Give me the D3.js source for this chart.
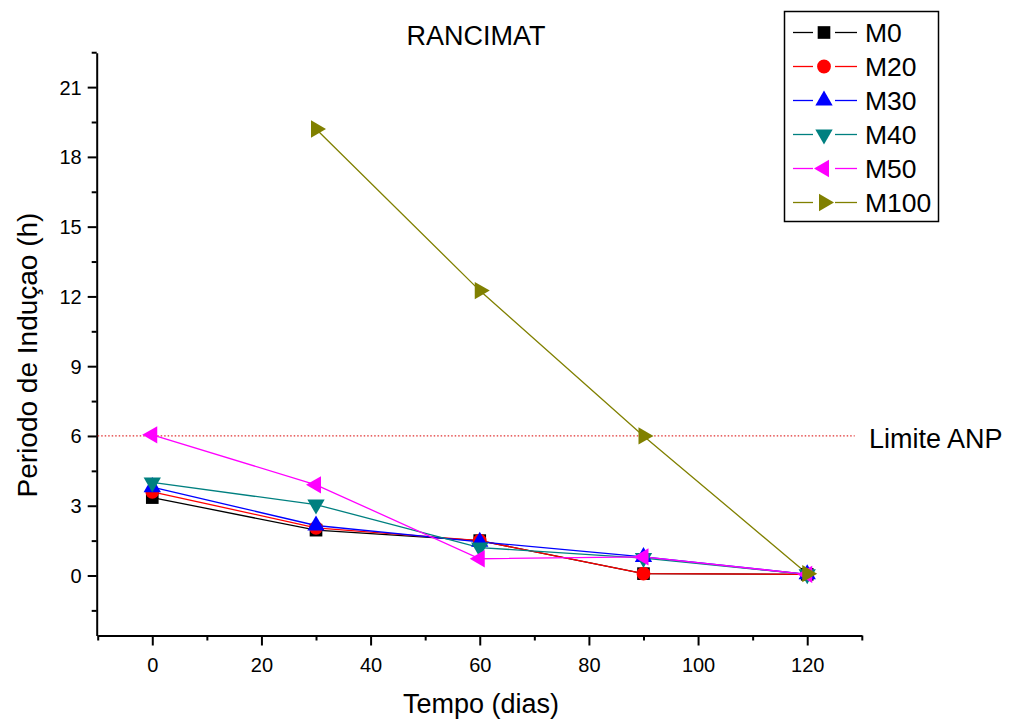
<!DOCTYPE html>
<html>
<head>
<meta charset="utf-8">
<script src="https://cdn.jsdelivr.net/npm/d3@7"></script>
<style>
  html, body { margin: 0; padding: 0; background: #fff; }
  svg text { font-family: Arial, "Liberation Sans", Helvetica, sans-serif; fill: #000; }
</style>
</head>
<body>
<svg id="chart" width="1011" height="722"></svg>
<script>
// ---- data ----
const days = [0, 30, 60, 90, 120];
const seriesNames = ["M0", "M20", "M30", "M40", "M50", "M100"];
const M0   = [3.35, 1.95, 1.5, 0.08, 0.05];
const M20  = [3.6, 2.05, 1.5, 0.08, 0.05];
const M30  = [3.8, 2.15, 1.45, 0.8, 0.05];
const M40  = [4.0, 3.05, 1.2, 0.75, 0.05];
const M50  = [6.05, 3.9, 0.72, 0.8, 0.05];
const M100Days = [30, 60, 90, 120];
const M100 = [19.2, 12.25, 6.0, 0.08];
const seriesColors = ["#000000", "#ff0000", "#0000ff", "#008080", "#ff00ff", "#808000"];
const seriesSymbols = ["square", "circle", "up", "down", "left", "right"];
const xTicks = [0, 20, 40, 60, 80, 100, 120];
const xMinorTicks = [-10, 10, 30, 50, 70, 90, 110, 130];
const yTicks = [0, 3, 6, 9, 12, 15, 18, 21];
const yMinorTicks = [-1.5, 1.5, 4.5, 7.5, 10.5, 13.5, 16.5, 19.5, 22.5];
const xDomain = [-10, 130];
const yDomain = [-2.58, 22.48];
const limitValue = 6;
const limitRange = [-10, 128.7];
const limitLabel = "Limite ANP";
const titleText = "RANCIMAT";
const xLabel = "Tempo (dias)";
const yLabel = "Periodo de Induçao (h)";

const series = [
  { xs: days, ys: M0 },
  { xs: days, ys: M20 },
  { xs: days, ys: M30 },
  { xs: days, ys: M40 },
  { xs: days, ys: M50 },
  { xs: M100Days, ys: M100 }
].map((s, i) => ({ ...s, name: seriesNames[i], color: seriesColors[i], sym: seriesSymbols[i],
  points: s.xs.map((x, j) => ({ x, y: s.ys[j] })) }));

// ---- layout ----
const svg = d3.select("#chart");
const plot = { left: 97.7, right: 861.8, top: 52.7, bottom: 635.5 };

const x = d3.scaleLinear().domain(xDomain).range([plot.left, plot.right]);
const y = d3.scaleLinear().domain(yDomain).range([plot.bottom, plot.top]);

function symbolPath(kind) {
  const tri = d3.symbol().type(d3.symbolTriangle).size(130)();
  switch (kind) {
    case "square": return { d: d3.symbol().type(d3.symbolSquare).size(160)(), rot: 0 };
    case "circle": return { d: d3.symbol().type(d3.symbolCircle).size(150)(), rot: 0 };
    case "up":     return { d: tri, rot: 0 };
    case "down":   return { d: tri, rot: 180 };
    case "left":   return { d: tri, rot: -90 };
    case "right":  return { d: tri, rot: 90 };
  }
}

// ---- axes ----
const axisG = svg.append("g");
axisG.append("g").attr("transform", `translate(0,${plot.bottom})`)
  .call(d3.axisBottom(x).tickValues(xMinorTicks).tickSize(5).tickFormat(""))
  .call(g => g.select(".domain").remove());
axisG.append("g").attr("transform", `translate(${plot.left - 1},0)`)
  .call(d3.axisLeft(y).tickValues(yMinorTicks).tickSize(5).tickFormat(""))
  .call(g => g.select(".domain").remove());
const xAxis = axisG.append("g").attr("transform", `translate(0,${plot.bottom})`)
  .call(d3.axisBottom(x).tickValues(xTicks).tickSize(10).tickSizeOuter(0).tickPadding(12).tickFormat(d3.format("d")));
const yAxis = axisG.append("g").attr("transform", `translate(${plot.left - 1},0)`)
  .call(d3.axisLeft(y).tickValues(yTicks).tickSize(9).tickSizeOuter(0).tickPadding(6).tickFormat(d3.format("d")));
axisG.selectAll("line").attr("stroke", "#000").attr("stroke-width", 2);
axisG.selectAll(".domain").attr("stroke", "#000").attr("stroke-width", 2);
axisG.selectAll(".tick text").style("font-size", "20px").attr("fill", "#000");
yAxis.selectAll(".tick text").attr("dy", "0.35em");

// ---- limit line ----
svg.append("line")
  .attr("x1", x(limitRange[0])).attr("x2", x(limitRange[1]))
  .attr("y1", y(limitValue)).attr("y2", y(limitValue))
  .attr("stroke", "#e03030").attr("stroke-width", 1.2).attr("stroke-dasharray", "1.5,2");
svg.append("text").attr("x", 869).attr("y", 448)
  .style("font-size", "27px").text(limitLabel);

// ---- series ----
const line = d3.line().x(d => x(d.x)).y(d => y(d.y));
series.forEach(s => {
  svg.append("path").datum(s.points)
    .attr("d", line).attr("fill", "none")
    .attr("stroke", s.color).attr("stroke-width", 1.3);
});
series.forEach(s => {
  const sp = symbolPath(s.sym);
  svg.append("g").selectAll("path").data(s.points).join("path")
    .attr("d", sp.d)
    .attr("transform", d => `translate(${x(d.x)},${y(d.y)}) rotate(${sp.rot})`)
    .attr("fill", s.color);
});

// ---- title and labels ----
svg.append("text").attr("x", 476).attr("y", 45).attr("text-anchor", "middle")
  .style("font-size", "27px").text(titleText);
svg.append("text").attr("x", 481).attr("y", 713).attr("text-anchor", "middle")
  .style("font-size", "27px").text(xLabel);
svg.append("text").attr("transform", `translate(37,355) rotate(-90)`).attr("text-anchor", "middle")
  .style("font-size", "28px").text(yLabel);

// ---- legend ----
const legend = svg.append("g");
legend.append("rect").attr("x", 784.5).attr("y", 11.5).attr("width", 154).attr("height", 210)
  .attr("fill", "#fff").attr("stroke", "#000").attr("stroke-width", 1.5);
series.forEach((s, i) => {
  const cy = 32.5 + i * 34;
  const g = legend.append("g");
  g.append("line").attr("x1", 793).attr("x2", 813).attr("y1", cy).attr("y2", cy)
    .attr("stroke", s.color).attr("stroke-width", 1.3);
  g.append("line").attr("x1", 835).attr("x2", 857).attr("y1", cy).attr("y2", cy)
    .attr("stroke", s.color).attr("stroke-width", 1.3);
  const sp = symbolPath(s.sym);
  g.append("path").attr("d", sp.d).attr("transform", `translate(824,${cy}) rotate(${sp.rot})`)
    .attr("fill", s.color);
  g.append("text").attr("x", 865).attr("y", cy + 9.5).style("font-size", "26.5px").text(s.name);
});
</script>
</body>
</html>
